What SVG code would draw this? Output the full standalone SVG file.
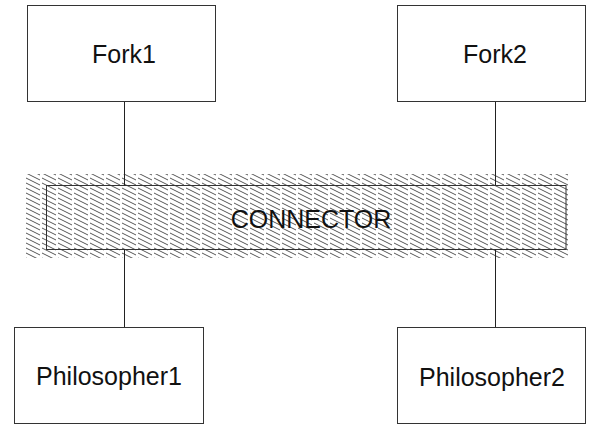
<svg xmlns="http://www.w3.org/2000/svg" width="589" height="425" viewBox="0 0 589 425">
  <defs>
    <!-- broken diagonal hatching for the connector band -->
    <pattern id="hatch" x="25" y="174" width="16" height="5" patternUnits="userSpaceOnUse">
      <line x1="1" y1="-1" x2="15" y2="6" stroke="#555" stroke-width="1"/>
      <line x1="1" y1="4" x2="15" y2="11" stroke="#555" stroke-width="1"/>
      <line x1="1" y1="-6" x2="15" y2="1" stroke="#555" stroke-width="1"/>
    </pattern>
  </defs>
  <style>
    .box { fill: #fff; stroke: #333; stroke-width: 1; }
    .label { font-family: "Liberation Sans", Arial, sans-serif; font-size: 25px; fill: #111; text-anchor: middle; }
    .wire { stroke: #222; stroke-width: 1; fill: none; }
  </style>
  <rect width="589" height="425" fill="#fff"/>

  <g id="connector">
    <rect x="25" y="174" width="543" height="84" fill="url(#hatch)"/>
    <rect x="46.5" y="185.5" width="519.5" height="64" fill="none" stroke="#333" stroke-width="1"/>
    <text class="label" x="311" y="228">CONNECTOR</text>
  </g>

  <g id="connectors">
    <line class="wire" x1="124.5" y1="101" x2="124.5" y2="185.5"/>
    <line class="wire" x1="495.5" y1="101" x2="495.5" y2="185.5"/>
    <line class="wire" x1="124.5" y1="249.5" x2="124.5" y2="327"/>
    <line class="wire" x1="495.5" y1="249.5" x2="495.5" y2="327"/>
  </g>

  <g id="fork1">
    <rect class="box" x="27.5" y="5.5" width="188" height="96"/>
    <text class="label" x="124" y="63">Fork1</text>
  </g>
  <g id="fork2">
    <rect class="box" x="397.5" y="5.5" width="188" height="96"/>
    <text class="label" x="495" y="63">Fork2</text>
  </g>
  <g id="philosopher1">
    <rect class="box" x="14.5" y="327.5" width="189" height="96"/>
    <text class="label" x="109" y="385">Philosopher1</text>
  </g>
  <g id="philosopher2">
    <rect class="box" x="397.5" y="327.5" width="188" height="96"/>
    <text class="label" x="492" y="386">Philosopher2</text>
  </g>
</svg>
